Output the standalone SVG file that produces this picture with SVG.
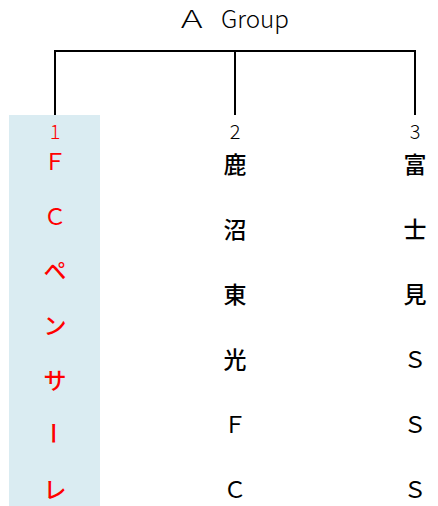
<svg xmlns="http://www.w3.org/2000/svg" width="438" height="506" viewBox="0 0 438 506">
<style>
.thin{font-family:"Noto Sans CJK JP","DejaVu Sans",sans-serif;font-weight:300;fill:#000}
.ch{font-family:"Noto Sans CJK JP","Noto Sans",sans-serif;font-size:23px;font-weight:500;text-anchor:middle;dominant-baseline:central;fill:#000}
.lat{font-weight:400}
.red{fill:#FF0000}
.conn{stroke:#000;stroke-width:2;fill:none}
</style>
<rect width="438" height="506" fill="#fff"/>
<g id="title">
<text class="thin" x="0" y="28" font-size="24" text-anchor="middle" transform="translate(192 0) scale(1.35 1)">Ａ</text>
<text class="thin" x="221" y="28" font-size="24" textLength="68" lengthAdjust="spacingAndGlyphs">Group</text>
</g>
<g id="connectors">
<path class="conn" d="M55 115V51H415V115M235 51V115"/>
</g>
<g id="node1">
<rect x="9" y="115" width="91" height="391" fill="#DAECF2"/>
<text class="thin red" x="55" y="139" font-size="20" text-anchor="middle">1</text>
<text class="ch lat red" x="55" y="160">Ｆ</text>
<text class="ch lat red" x="55" y="214.7">Ｃ</text>
<text class="ch red" x="55" y="269.3">ペ</text>
<text class="ch red" x="55" y="324">ン</text>
<text class="ch red" x="55" y="378.7">サ</text>
<text class="ch red" x="55" y="433.3" transform="rotate(90 55 433.3)">ー</text>
<text class="ch red" x="55" y="488">レ</text>
</g>
<g id="node2">
<text class="thin" x="235" y="139" font-size="20" text-anchor="middle">2</text>
<text class="ch" x="235" y="163">鹿</text>
<text class="ch" x="235" y="228">沼</text>
<text class="ch" x="235" y="293">東</text>
<text class="ch" x="235" y="358">光</text>
<text class="ch lat" x="235" y="423">Ｆ</text>
<text class="ch lat" x="235" y="488">Ｃ</text>
</g>
<g id="node3">
<text class="thin" x="415" y="139" font-size="20" text-anchor="middle">3</text>
<text class="ch" x="415" y="163">富</text>
<text class="ch" x="415" y="228">士</text>
<text class="ch" x="415" y="293">見</text>
<text class="ch lat" x="415" y="358">Ｓ</text>
<text class="ch lat" x="415" y="423">Ｓ</text>
<text class="ch lat" x="415" y="488">Ｓ</text>
</g>
</svg>
